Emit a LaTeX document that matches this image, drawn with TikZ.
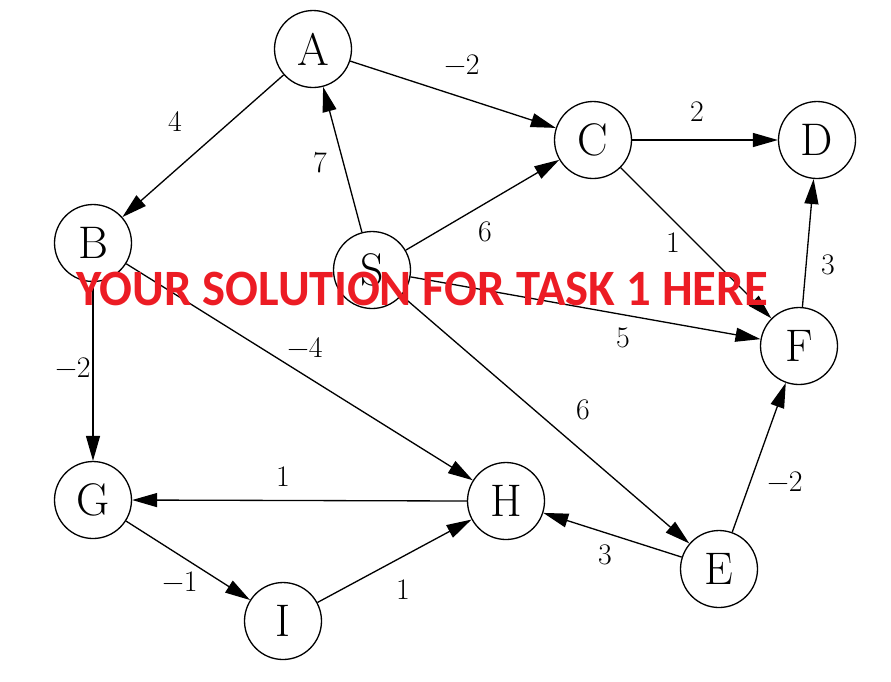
\documentclass[tikz,border=0pt]{standalone}
\usepackage{fontspec}
\newfontfamily\redfont{Carlito}
\usetikzlibrary{arrows.meta}
\definecolor{solred}{RGB}{236,28,36}
\begin{document}
\begin{tikzpicture}[x=0.02cm,y=-0.02cm,
  vert/.style={circle,draw,line width=0.75pt,minimum size=1.54cm,inner sep=0pt,
    font=\fontsize{26}{30}\selectfont,fill=white},
  wlab/.style={inner sep=0pt,font=\fontsize{17}{20}\selectfont},
  arc/.style={line width=0.75pt,-{Triangle[length=0.5cm,width=0.28cm]}},
  banner/.style={inner sep=0pt,text=solred,xscale=0.955,transform shape,
    font=\redfont\bfseries\fontsize{29}{32}\selectfont}]
\useasboundingbox (0,0) rectangle (891,681);
\node[vert] (A) at (313,49) {A};
\node[vert] (B) at (93,243) {B};
\node[vert] (C) at (593,140) {C};
\node[vert] (D) at (817,140) {D};
\node[vert] (S) at (372,270) {S};
\node[vert] (F) at (799,346) {F};
\node[vert] (G) at (93,500) {G};
\node[vert] (H) at (506,501) {H};
\node[vert] (E) at (719,569) {E};
\node[vert] (I) at (283,621) {I};

\draw[arc] (A) -- (B);
\draw[arc] (S) -- (A);
\draw[arc] (A) -- (C);
\draw[arc] (C) -- (D);
\draw[arc] (S) -- (C);
\draw[arc] (C) -- (F);
\draw[arc] (F) -- (D);
\draw[arc] (S) -- (F);
\draw[arc] (B) -- (G);
\draw[arc] (B) -- (H);
\draw[arc] (S) -- (E);
\draw[arc] (E) -- (F);
\draw[arc] (H.west) -- (G.east);
\draw[arc] (E) -- (H);
\draw[arc] (G) -- (I);
\draw[arc] (I) -- (H);

\node[wlab] (w1) at (175,121) {4};
\node[wlab] (w2) at (320,163) {7};
\node[wlab] (w3) at (462,65) {−2};
\node[wlab] (w4) at (697,112) {2};
\node[wlab] (w5) at (485,232) {6};
\node[wlab] (w6) at (673,243) {1};
\node[wlab] (w7) at (828,265) {3};
\node[wlab] (w8) at (623,338) {5};
\node[wlab] (w9) at (73,368) {−2};
\node[wlab] (w10) at (305,347) {−4};
\node[wlab] (w11) at (583,410) {6};
\node[wlab] (w12) at (785,482) {−2};
\node[wlab] (w13) at (283,477) {1};
\node[wlab] (w14) at (605,555) {3};
\node[wlab] (w15) at (180,582) {−1};
\node[wlab] (w16) at (403,590) {1};

\node[banner] (T) at (422,289) {YOUR SOLUTION FOR TASK 1 HERE};
\end{tikzpicture}
\end{document}
